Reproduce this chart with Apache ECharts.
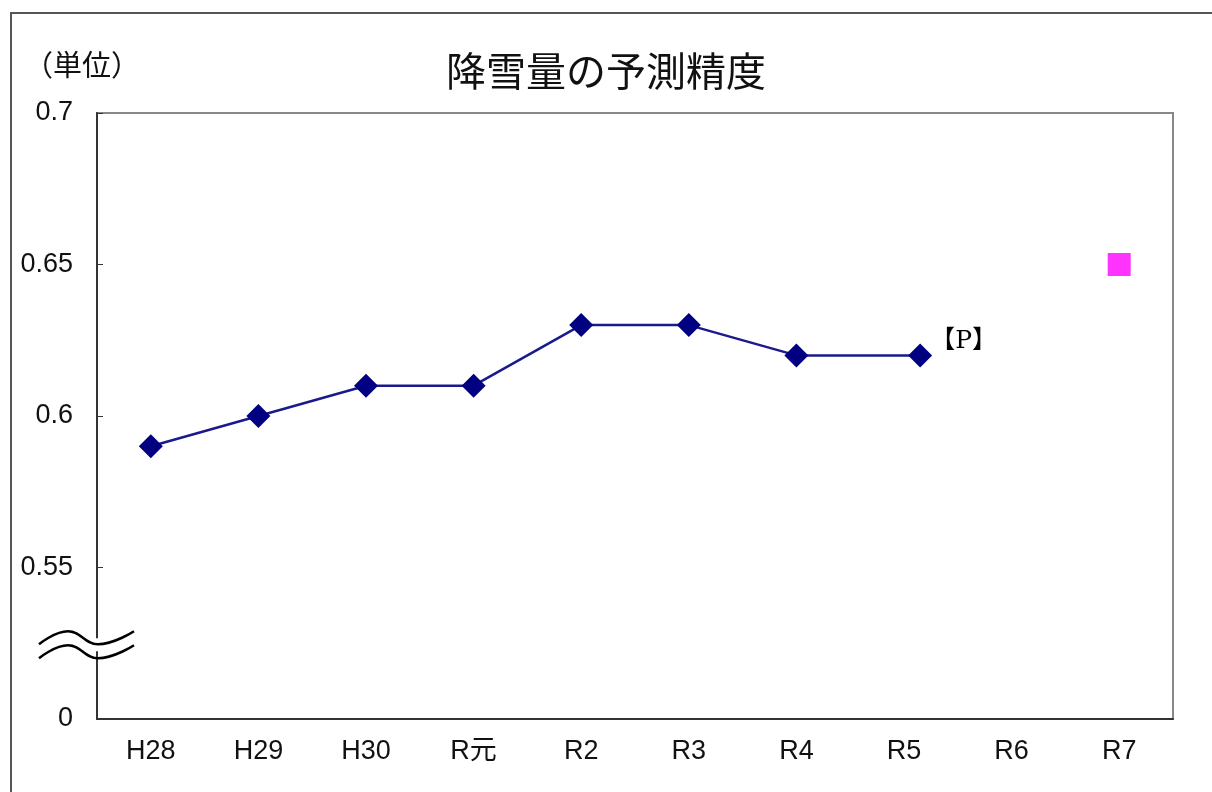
<!DOCTYPE html>
<html>
<head>
<meta charset="utf-8">
<script src="https://cdn.jsdelivr.net/npm/echarts@6/dist/echarts.min.js"></script>
<style>
html,body{margin:0;padding:0;background:#fff;}
#c{width:1212px;height:792px;}
</style>
</head>
<body>
<div id="c"></div>
<script>
const titleText = '降雪量の予測精度';
const unitText = '（単位）';
const categories = ['H28','H29','H30','R元','R2','R3','R4','R5','R6','R7'];
// horizontal position of each point, in category units (R5 sits slightly right of its slot in the original)
const xPositions = [0.5, 1.5, 2.5, 3.5, 4.5, 5.5, 6.5, 7.65, 8.5, 9.5];
const actualValues = [0.59, 0.60, 0.61, 0.61, 0.63, 0.63, 0.62, 0.62, null, null];
const targetValues = [null, null, null, null, null, null, null, null, null, 0.65];
const pointLabelIndex = 7;
const pointLabelText = '【P】';
const yMin = 0.5, yMax = 0.7, yStep = 0.05;
const breakLabel = '0'; // shown at the broken bottom of the axis

const FONT = '"Liberation Sans", Arial, "Noto Sans CJK JP", sans-serif';

const lineData = [];
actualValues.forEach((v, i) => {
  if (v == null) return;
  const item = {value: [xPositions[i], v]};
  if (i === pointLabelIndex) {
    item.label = {
      show: true, position: 'right', offset: [-7, -14],
      formatter: pointLabelText,
      fontFamily: '"DejaVu Serif", "Liberation Serif", "Noto Sans CJK JP", serif',
      fontSize: 25, color: '#000'
    };
  }
  lineData.push(item);
});
const targetData = [];
targetValues.forEach((v, i) => { if (v != null) targetData.push([xPositions[i], v]); });

const chart = echarts.init(document.getElementById('c'), null, {renderer: 'canvas'});
chart.setOption({
  backgroundColor: '#fff',
  animation: false,
  title: {
    text: titleText, left: 601, top: 46, textAlign: 'center',
    textStyle: {fontFamily: '"Noto Sans CJK JP", sans-serif', fontSize: 40, fontWeight: 'normal', color: '#111'}
  },
  grid: {left: 97, right: 39, top: 113, bottom: 73, show: true, borderColor: '#888', borderWidth: 2, backgroundColor: 'transparent'},
  xAxis: [{
    type: 'category', data: categories, boundaryGap: true,
    axisLine: {lineStyle: {color: '#333', width: 2}},
    axisTick: {inside: true, length: 6, lineStyle: {color: '#333', width: 1}},
    axisLabel: {fontFamily: FONT, fontSize: 27, color: '#111', margin: 19}
  }, {
    type: 'value', min: 0, max: categories.length, show: false
  }],
  yAxis: {
    type: 'value', min: yMin, max: yMax, interval: yStep,
    axisLine: {show: true, lineStyle: {color: '#333', width: 2}},
    axisTick: {show: true, inside: true, length: 6, lineStyle: {color: '#333', width: 1}},
    splitLine: {show: false},
    axisLabel: {
      fontFamily: FONT, fontSize: 27, color: '#111', margin: 24,
      formatter: v => Math.abs(v - yMin) < 1e-9 ? breakLabel : String(+v.toFixed(2))
    }
  },
  series: [
    {
      type: 'line', xAxisIndex: 1, data: lineData, symbol: 'diamond', symbolSize: 24,
      itemStyle: {color: '#000080'}, lineStyle: {color: '#1a1a8c', width: 2.5}, z: 3
    },
    {
      type: 'scatter', xAxisIndex: 1, data: targetData, symbol: 'rect', symbolSize: 23,
      itemStyle: {color: '#ff00ff'}, z: 3
    }
  ]
});

// decorations: outer frame, unit label, axis-break symbol
const yBreak = chart.convertToPixel({yAxisIndex: 0}, (yMin + (yMin + yStep)) / 2);
const xAxisLine = 97;
function wave(dy) {
  return {
    type: 'polyline', silent: true, z: 100,
    shape: {points: [[39, yBreak + dy + 1], [68, yBreak + dy - 12], [98, yBreak + dy + 1], [134, yBreak + dy - 12]], smooth: 0.45},
    style: {stroke: '#000', lineWidth: 2.5, fill: null}
  };
}
chart.setOption({
  graphic: [
    {type: 'rect', silent: true, z: 0, shape: {x: 11, y: 13, width: 1230, height: 800},
     style: {fill: null, stroke: '#555', lineWidth: 2}},
    {type: 'text', silent: true, left: 24, top: 50,
     style: {text: unitText, font: '29px "Noto Sans CJK JP", sans-serif', fill: '#111'}},
    {type: 'rect', silent: true, z: 99, shape: {x: xAxisLine - 3, y: yBreak - 5, width: 6, height: 13}, style: {fill: '#fff'}},
    wave(0),
    wave(14)
  ]
});
</script>
</body>
</html>
